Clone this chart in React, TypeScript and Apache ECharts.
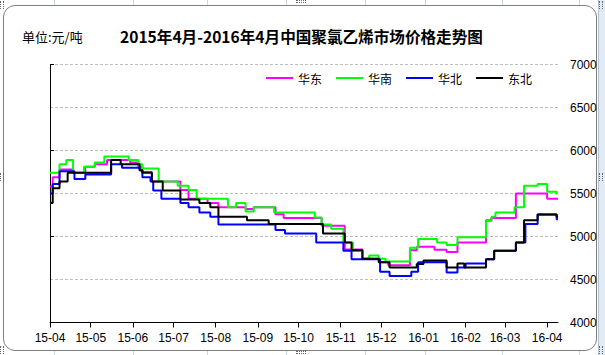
import React, { useEffect, useRef } from 'react';
import * as echarts from 'echarts';

const monthTicks = ['2015-04-01','2015-05-01','2015-06-01','2015-07-01','2015-08-01','2015-09-01','2015-10-01','2015-11-01','2015-12-01','2016-01-01','2016-02-01','2016-03-01','2016-04-01'];
const tickLabels = ['15-04','15-05','15-06','15-07','15-08','15-09','15-10','15-11','15-12','16-01','16-02','16-03','16-04'];

const seriesNames = ['华东', '华南', '华北', '东北'];

const eastDates = ['2015-04-01','2015-04-03','2015-04-08','2015-04-18','2015-04-27','2015-05-04','2015-05-13','2015-05-30','2015-06-05','2015-06-08','2015-06-15','2015-07-06','2015-07-12','2015-07-26','2015-08-03','2015-08-23','2015-08-29','2015-09-14','2015-09-20','2015-10-18','2015-11-04','2015-11-17','2015-11-30','2015-12-06','2015-12-22','2015-12-27','2016-01-09','2016-01-18','2016-01-26','2016-02-16','2016-02-20','2016-03-09','2016-04-01','2016-04-09'];
const eastValues = [5580,5690,5780,5740,5810,5840,5890,5860,5810,5750,5640,5540,5440,5390,5340,5320,5340,5260,5215,5125,4850,4740,4700,4665,4840,4880,4845,4820,4930,5190,5215,5500,5440,5440];

const southDates = ['2015-04-01','2015-04-08','2015-04-13','2015-04-18','2015-04-26','2015-05-04','2015-05-11','2015-05-29','2015-06-05','2015-06-08','2015-06-20','2015-07-04','2015-07-12','2015-07-18','2015-08-10','2015-08-16','2015-08-23','2015-08-29','2015-09-13','2015-10-13','2015-10-18','2015-10-25','2015-11-03','2015-11-10','2015-11-17','2015-11-22','2015-11-29','2015-12-04','2015-12-22','2015-12-28','2016-01-11','2016-01-18','2016-01-26','2016-02-16','2016-02-20','2016-02-23','2016-03-08','2016-03-15','2016-03-25','2016-04-01','2016-04-08'];
const southValues = [5740,5840,5890,5740,5810,5860,5930,5890,5840,5790,5640,5590,5540,5440,5340,5390,5290,5340,5280,5220,5140,5090,4930,4830,4740,4780,4740,4710,4870,4970,4930,4900,4990,5180,5230,5280,5340,5590,5610,5520,5490];

const northDates = ['2015-04-01','2015-04-03','2015-04-08','2015-04-19','2015-04-27','2015-05-16','2015-05-24','2015-06-06','2015-06-08','2015-06-14','2015-06-16','2015-06-22','2015-07-06','2015-07-12','2015-07-20','2015-07-28','2015-08-03','2015-09-14','2015-09-21','2015-10-14','2015-11-03','2015-11-09','2015-11-30','2015-12-07','2015-12-23','2015-12-28','2016-01-18','2016-01-26','2016-02-01','2016-02-16','2016-02-22','2016-03-09','2016-03-16','2016-03-25','2016-04-08','2016-04-09'];
const northValues = [5500,5610,5760,5670,5720,5840,5800,5770,5690,5640,5535,5440,5390,5340,5280,5230,5140,5075,5035,4930,4835,4735,4590,4540,4590,4700,4580,4640,4685,4735,4835,4930,5145,5255,5200,5200];

const northeastDates = ['2015-04-01','2015-04-03','2015-04-08','2015-04-14','2015-05-16','2015-05-23','2015-06-06','2015-06-08','2015-06-15','2015-06-23','2015-07-06','2015-07-20','2015-07-28','2015-08-03','2015-08-24','2015-09-09','2015-10-19','2015-11-04','2015-11-09','2015-11-17','2015-11-29','2015-12-07','2015-12-27','2016-01-01','2016-01-18','2016-01-26','2016-01-31','2016-02-16','2016-02-22','2016-03-09','2016-03-15','2016-03-25','2016-04-08','2016-04-09'];
const northeastValues = [5390,5560,5640,5740,5890,5840,5770,5740,5640,5535,5430,5390,5340,5230,5190,5145,5035,4930,4840,4740,4700,4640,4680,4720,4640,4685,4640,4735,4835,4930,5190,5255,5230,5230];

const yMin = 4000;
const yMax = 7000;
const yStep = 500;
const xStart = '2015-04-01';
const xEnd = '2016-04-09';

const ts = (s: string) => {
  const [y, m, d] = s.split('-').map(Number);
  return Date.UTC(y, m - 1, d);
};

const pair = (dates: string[], vals: number[]) => dates.map((d, i) => [ts(d), vals[i]]);

const colors = ['#ff00ff', '#00ff00', '#0000ff', '#000000'];
const axisFont = 'Liberation Sans';
const cjkFont = 'Noto Sans CJK SC';

export default function App() {
  const ref = useRef<HTMLDivElement>(null);
  useEffect(() => {
    if (!ref.current) return;
    const chart = echarts.init(ref.current, undefined, { renderer: 'svg' });
    const tickTs = monthTicks.map(ts);
    const datasets = [
      pair(eastDates, eastValues),
      pair(southDates, southValues),
      pair(northDates, northValues),
      pair(northeastDates, northeastValues),
    ];
    chart.setOption({
      animation: false,
      title: [
        {
          text: '单位:元/吨',
          left: 22,
          top: 30,
          padding: 0,
          textStyle: { fontFamily: cjkFont, fontSize: 13, fontWeight: 'normal', color: '#000' },
        },
        {
          text: '2015年4月-2016年4月中国聚氯乙烯市场价格走势图',
          left: 120,
          top: 28,
          padding: 0,
          textStyle: { fontFamily: cjkFont, fontSize: 15.6, fontWeight: 'bold', color: '#000' },
        },
      ],
      legend: {
        left: 266,
        top: 72,
        padding: 0,
        icon: 'rect',
        itemWidth: 27,
        itemHeight: 2,
        itemGap: 14,
        data: seriesNames,
        textStyle: { fontFamily: cjkFont, fontSize: 12, color: '#000' },
      },
      grid: {
        left: 50,
        top: 64.5,
        width: 508,
        height: 258,
        containLabel: false,
        outerBoundsMode: 'none',
      },
      xAxis: {
        type: 'value',
        min: ts(xStart),
        max: ts(xEnd),
        axisLine: { show: true, lineStyle: { color: '#000', width: 1 } },
        axisTick: { show: true, customValues: tickTs, length: 5, lineStyle: { color: '#000' } },
        axisLabel: {
          customValues: tickTs,
          formatter: (v: number) => {
            const i = tickTs.indexOf(v);
            return i >= 0 ? tickLabels[i] : '';
          },
          color: '#000',
          fontFamily: axisFont,
          fontSize: 12,
          margin: 9,
        },
        splitLine: { show: false },
      },
      yAxis: [
        {
          type: 'value',
          position: 'left',
          min: yMin,
          max: yMax,
          interval: yStep * 2,
          axisLine: { show: true, lineStyle: { color: '#000', width: 1 } },
          axisTick: { show: true, inside: true, length: 4, lineStyle: { color: '#000' } },
          axisLabel: { show: false },
          splitLine: { show: false },
        },
        {
          type: 'value',
          position: 'right',
          min: yMin,
          max: yMax,
          interval: yStep,
          axisLine: { show: false },
          axisTick: { show: false },
          axisLabel: {
            color: '#000',
            fontFamily: axisFont,
            fontSize: 12,
            margin: 12,
            formatter: (v: number) => String(v),
          },
          splitLine: { show: true, lineStyle: { color: '#bdbdbd', width: 1, type: [3, 2] } },
        },
      ],
      series: seriesNames.map((name, i) => ({
        name,
        type: 'line',
        step: 'end',
        showSymbol: false,
        symbol: 'none',
        yAxisIndex: 1,
        data: datasets[i],
        color: colors[i],
        lineStyle: { color: colors[i], width: 2 },
      })),
    });
    return () => chart.dispose();
  }, []);

  const colLines = [54, 133, 207, 286, 365, 425, 502, 579];
  return (
    <div style={{ position: 'fixed', left: 0, top: 0, width: 605, height: 355, background: '#ffffff', overflow: 'hidden' }}>
      {colLines.map((x) => (
        <div key={'t' + x} style={{ position: 'absolute', left: x, top: 0, width: 1, height: 5, background: '#c9d6e6' }} />
      ))}
      {colLines.map((x) => (
        <div key={'b' + x} style={{ position: 'absolute', left: x, top: 350, width: 1, height: 5, background: '#c9d6e6' }} />
      ))}
      <div style={{ position: 'absolute', left: 598, top: 0, width: 7, height: 355, background: '#e2eaf3', borderLeft: '1px solid #b4c3d4' }} />
      <div style={{ position: 'absolute', left: 3, top: 5, width: 592, height: 344, border: '1px solid #7f7f7f', borderRadius: 12, background: '#ffffff' }} />
      <div style={{ position: 'absolute', left: 0, top: 1, width: 2, height: 8, borderLeft: '1px dotted #666', borderRight: '1px dotted #666' }} />
      <div style={{ position: 'absolute', left: 599, top: 1, width: 2, height: 8, borderLeft: '1px dotted #666', borderRight: '1px dotted #666' }} />
      <div style={{ position: 'absolute', left: 296, top: 0, width: 10, height: 1, borderTop: '1px dotted #666', borderBottom: '1px dotted #666' }} />
      <div style={{ position: 'absolute', left: 296, top: 351, width: 10, height: 1, borderTop: '1px dotted #666', borderBottom: '1px dotted #666' }} />
      <div style={{ position: 'absolute', left: 0, top: 346, width: 2, height: 8, borderLeft: '1px dotted #666', borderRight: '1px dotted #666' }} />
      <div style={{ position: 'absolute', left: 599, top: 346, width: 2, height: 8, borderLeft: '1px dotted #666', borderRight: '1px dotted #666' }} />
      <div style={{ position: 'absolute', left: 0, top: 173, width: 2, height: 8, borderLeft: '1px dotted #666', borderRight: '1px dotted #666' }} />
      <div style={{ position: 'absolute', left: 599, top: 173, width: 2, height: 8, borderLeft: '1px dotted #666', borderRight: '1px dotted #666' }} />
      <div ref={ref} style={{ position: 'absolute', left: 0, top: 0, width: 605, height: 355 }} />
    </div>
  );
}
